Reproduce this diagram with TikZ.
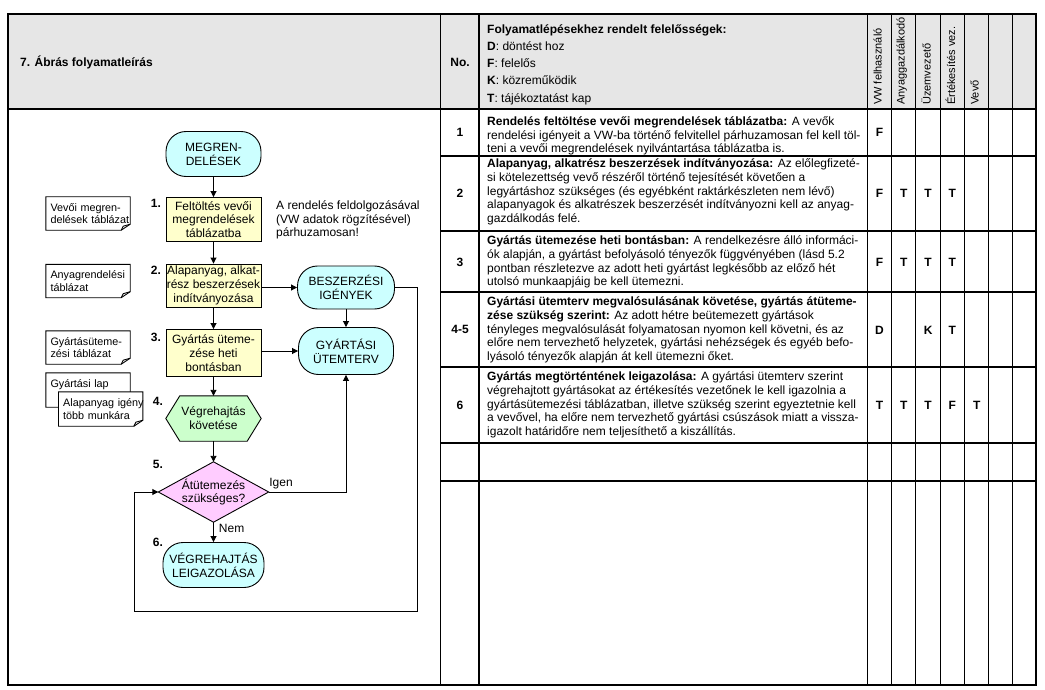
\documentclass[tikz,border=0pt]{standalone}
\usepackage{fontspec}
\setmainfont{Liberation Sans}
\usetikzlibrary{arrows.meta,backgrounds,positioning}

\definecolor{headgray}{HTML}{E6E6E6}
\definecolor{termcyan}{HTML}{CCFFFF}
\definecolor{stepyellow}{HTML}{FFFFCC}
\definecolor{hexgreen}{HTML}{CCFFCC}
\definecolor{decpink}{HTML}{FFCCFF}

% outline of a document symbol with folded corner
\newcommand{\docfold}[1]{%
  \draw[flow, fill=white] (#1.north west) -- (#1.north east) -- ([yshift=6pt]#1.south east) -- ([xshift=-9pt]#1.south east) -- (#1.south west) -- cycle;
  \draw[flow] ([xshift=-9pt]#1.south east) -- ([xshift=-7pt,yshift=4pt]#1.south east) -- ([yshift=6pt]#1.south east);}

\begin{document}
\begin{tikzpicture}[x=1pt,y=-1pt]
    \tikzset{grid/.style={line width=1.3pt}}
    \tikzset{flow/.style={line width=0.9pt}}
    \tikzset{arr/.style={flow, -{Triangle[length=6pt,width=6pt]}}}
    \tikzset{txt/.style={font=\fontsize{12}{13.8}\selectfont, inner sep=0pt}}
    \tikzset{txtb/.style={txt, font=\fontsize{12}{13.8}\selectfont\bfseries}}
    \tikzset{desc/.style={txt, align=left, anchor=west}}
    \tikzset{term/.style={txt, draw, flow, fill=termcyan, rounded corners=20pt, minimum width=95pt, minimum height=45pt, align=center}}
    \tikzset{stepbox/.style={txt, draw, flow, fill=stepyellow, minimum width=95pt, align=center}}
    \tikzset{doc/.style={font=\fontsize{10.8}{12.5}\selectfont, align=left, inner xsep=4.5pt, inner ysep=0pt, text width=75pt, minimum height=33pt}}
    \useasboundingbox (0,0) rectangle (1045,690);

    % table
    \fill[headgray] (8,14) rectangle (1036,109);
    \draw[grid] (8,14) rectangle (1036,685);
    \draw[grid] (8,109) -- (1036,109);
    \foreach \x in {440.7,479,867.3,891.7,915.7,940.3,964.7,988.7,1012.7}{
        \draw[grid] (\x,14) -- (\x,685);
    }
    \foreach \y in {156,231,292,367,443,481}{
        \draw[grid] (440.7,\y) -- (1036,\y);
    }

    \node[txtb, anchor=west] (title) at (20,62) {7. Ábrás folyamatleírás};
    \node[txtb] (nohead) at (460,62) {No.};
    \node[desc, font=\fontsize{12}{17.25}\selectfont] (legend) at (487,64.5) {\textbf{Folyamatlépésekhez rendelt felelősségek:}\\\textbf{D}: döntést hoz\\\textbf{F}: felelős\\\textbf{K}: közreműködik\\\textbf{T}: tájékoztatást kap};
    \foreach \c/\t in {1/VW felhasználó,2/Anyaggazdálkodó,3/Üzemvezető,4/Értékesítés vez.,5/Vevő}{
        \node[txt, font=\fontsize{11}{13}\selectfont, rotate=90, anchor=west] (role\c) at ({877.5+(\c-1)*24.3},105) {\t};
    }

    \node[txtb] (no1) at (460,132.5) {1};
    \node[desc] (row1) at (487,136) {\textbf{Rendelés feltöltése vevői megrendelések táblázatba:} A vevők\\rendelési igényeit a VW-ba történő felvitellel párhuzamosan fel kell töl-\\teni a vevői megrendelések nyilvántartása táblázatba is.};
    \node[txtb] (no2) at (460,193.5) {2};
    \node[desc] (row2) at (487,192) {\textbf{Alapanyag, alkatrész beszerzések indítványozása:} Az előlegfizeté-\\si kötelezettség vevő részéről történő tejesítését követően a\\legyártáshoz szükséges (és egyébként raktárkészleten nem lévő)\\alapanyagok és alkatrészek beszerzését indítványozni kell az anyag-\\gazdálkodás felé.};
    \node[txtb] (no3) at (460,262) {3};
    \node[desc] (row3) at (487,262) {\textbf{Gyártás ütemezése heti bontásban:} A rendelkezésre álló informáci-\\ók alapján, a gyártást befolyásoló tényezők függvényében (lásd 5.2\\pontban részletezve az adott heti gyártást legkésőbb az előző hét\\utolsó munkaapjáig be kell ütemezni.};
    \node[txtb] (no4) at (460,329.5) {4-5};
    \node[desc] (row4) at (487,330) {\textbf{Gyártási ütemterv megvalósulásának követése, gyártás átüteme-}\\\textbf{zése szükség szerint:} Az adott hétre beütemezett gyártások\\tényleges megvalósulását folyamatosan nyomon kell követni, és az\\előre nem tervezhető helyzetek, gyártási nehézségek és egyéb befo-\\lyásoló tényezők alapján át kell ütemezni őket.};
    \node[txtb] (no6) at (460,405) {6};
    \node[desc] (row6) at (487,405) {\textbf{Gyártás megtörténtének leigazolása:} A gyártási ütemterv szerint\\végrehajtott gyártásokat az értékesítés vezetőnek le kell igazolnia a\\gyártásütemezési táblázatban, illetve szükség szerint egyeztetnie kell\\a vevővel, ha előre nem tervezhető gyártási csúszások miatt a vissza-\\igazolt határidőre nem teljesíthető a kiszállítás.};

    \foreach \c/\y/\t in {1/132/F, 1/193/F,2/193/T,3/193/T,4/193/T, 1/262/F,2/262/T,3/262/T,4/262/T, 1/330/D,3/330/K,4/330/T, 1/405/T,2/405/T,3/405/T,4/405/F,5/405/T}{
        \node[txtb] (mark\c-\y) at ({879.5+(\c-1)*24.3},\y) {\t};
    }

    % flowchart
    \node[term] (megr) at (213.5,154) {MEGREN-\\DELÉSEK};
    \node[stepbox, minimum height=44pt] (f1) at (213.5,219.5) {Feltöltés vevői\\megrendelések\\táblázatba};
    \node[stepbox, minimum height=43pt] (f2) at (213.5,285.5) {Alapanyag, alkat-\\rész beszerzések\\indítványozása};
    \node[stepbox, minimum height=47pt] (f3) at (213.5,353) {Gyártás üteme-\\zése heti\\bontásban};
    \node[term, minimum width=97pt, minimum height=43pt] (beszerz) at (346,287.5) {BESZERZÉSI\\IGÉNYEK};
    \node[term, minimum height=47pt] (gyart) at (346,351) {GYÁRTÁSI\\ÜTEMTERV};
    \node[txt, align=center, minimum width=95pt, minimum height=45pt] (f4) at (213.5,418.5) {Végrehajtás\\követése};
    \node[txt, align=center, minimum width=110pt, minimum height=60pt] (f5) at (213.5,492) {Átütemezés\\szükséges?};
    \node[term, minimum width=101pt] (f6) at (213.5,565) {VÉGREHAJTÁS\\LEIGAZOLÁSA};

    \node[txtb] (n1) at (156,203) {1.};
    \node[txtb] (n2) at (156,270) {2.};
    \node[txtb] (n3) at (156,337) {3.};
    \node[txtb] (n4) at (158,401) {4.};
    \node[txtb] (n5) at (158,464) {5.};
    \node[txtb] (n6) at (158,542) {6.};

    \node[desc] (note1) at (276,220) {A rendelés feldolgozásával\\(VW adatok rögzítésével)\\párhuzamosan!};

    \node[doc] (d1) at (88,213.5) {Vevői~megren-\\delések~táblázat};
    \node[doc] (d2) at (88,281) {Anyagrendelési\\táblázat};
    \node[doc] (d3) at (88,347.5) {Gyártásüteme-\\zési~táblázat};
    \node[doc, minimum height=34pt] (d4a) at (88,390) {Gyártási~lap\\\mbox{}};
    \node[doc, minimum height=34pt] (d4b) at (100.7,409) {Alapanyag~igény\\több~munkára};

    \begin{pgfonlayer}{background}
        \draw[flow, fill=hexgreen] (f4.west) -- ([xshift=14pt]f4.north west) -- ([xshift=-14pt]f4.north east) -- (f4.east) -- ([xshift=-14pt]f4.south east) -- ([xshift=14pt]f4.south west) -- cycle;
        \draw[flow, fill=decpink] (f5.west) -- (f5.north) -- (f5.east) -- (f5.south) -- cycle;
        \foreach \d in {d1,d2,d3,d4a,d4b}{
            \docfold{\d}
        }
    \end{pgfonlayer}

    \foreach \a/\b in {megr/f1,f1/f2,f2/f3,f3/f4,f4/f5}{
        \draw[arr] (\a) -- (\b);
    }
    \draw[arr] (f5) -- node[txt, anchor=west, pos=0.3, xshift=5pt] (nem) {Nem} (f6);
    \draw[arr] (f2.east |- beszerz.west) -- (beszerz.west);
    \draw[arr] (f3.east |- gyart.west) -- (gyart.west);
    \draw[arr] (beszerz) -- (gyart);
    \draw[arr] (f5.east) -| node[txt, pos=0.08, above=3pt] (igen) {Igen} (gyart.south);
    \coordinate (loopR) at (417,611);
    \coordinate (loopL) at (134,611);
    \draw[arr] (beszerz.east) -| (loopR) -- (loopL) |- (f5.west);
\end{tikzpicture}
\end{document}
